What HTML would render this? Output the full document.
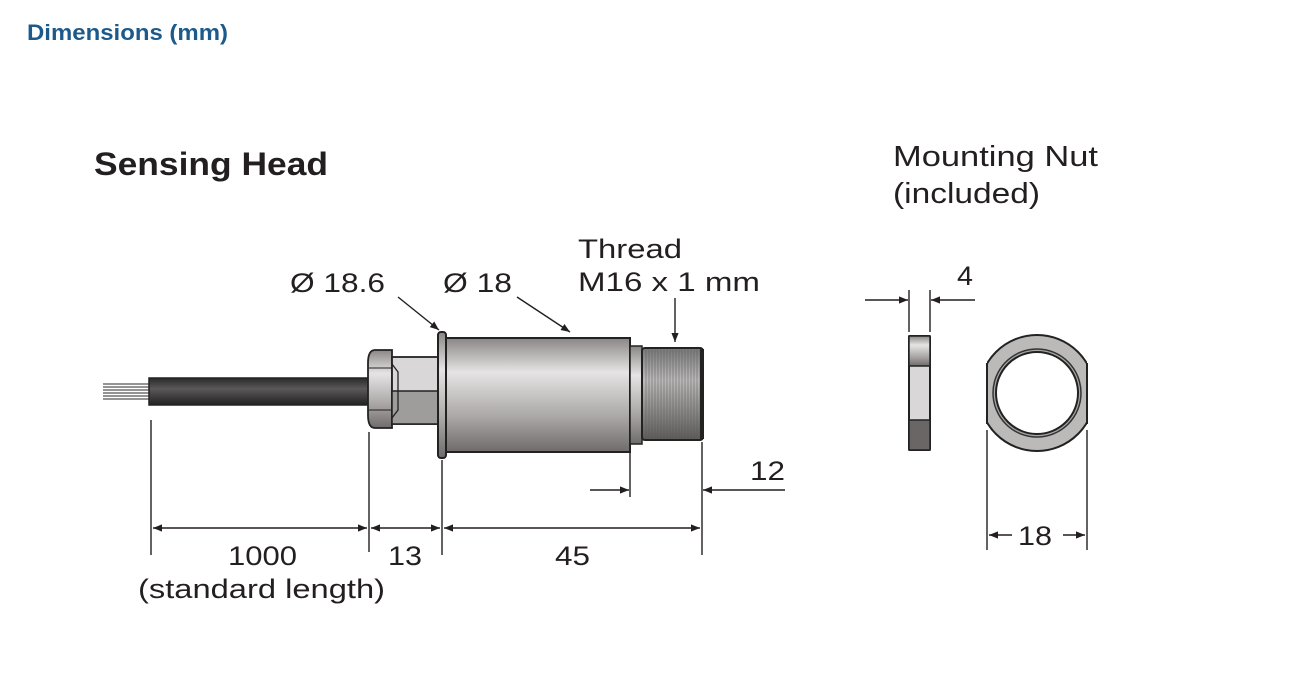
<!DOCTYPE html>
<html><head><meta charset="utf-8"><style>
html,body{margin:0;padding:0;background:#fff;}
body{width:1293px;height:694px;overflow:hidden;position:relative;}
svg{position:absolute;left:0;top:0;}
text{font-family:"Liberation Sans","DejaVu Sans",sans-serif;fill:#231f20;}
</style></head><body>
<svg width="1293" height="694" viewBox="0 0 1293 694" xmlns="http://www.w3.org/2000/svg">
<defs>
<linearGradient id="body" x1="0" y1="0" x2="0" y2="1">
<stop offset="0" stop-color="#8a8685"/><stop offset="0.3" stop-color="#e6e4e4"/><stop offset="0.7" stop-color="#a9a5a5"/><stop offset="1" stop-color="#6f6b6b"/></linearGradient>
<linearGradient id="cable" x1="0" y1="0" x2="0" y2="1">
<stop offset="0" stop-color="#2a2a2a"/><stop offset="0.4" stop-color="#5a5858"/><stop offset="1" stop-color="#222"/></linearGradient>
<linearGradient id="thr" x1="0" y1="0" x2="0" y2="1">
<stop offset="0" stop-color="#777"/><stop offset="0.35" stop-color="#bdbaba"/><stop offset="1" stop-color="#5c5959"/></linearGradient>
<pattern id="threads" width="3" height="10" patternUnits="userSpaceOnUse"><line x1="1" y1="0" x2="1" y2="10" stroke="#555" stroke-width="0.8" opacity="0.6"/></pattern>
<marker id="ah" viewBox="0 0 10 10" refX="10" refY="5" markerWidth="11" markerHeight="9" orient="auto-start-reverse" markerUnits="userSpaceOnUse"><path d="M0,1 L10,5 L0,9 z" fill="#231f20"/></marker>
</defs>
<text x="27" y="40" font-size="22" font-weight="bold" textLength="201" lengthAdjust="spacingAndGlyphs" style="fill:#1d5a8c">Dimensions (mm)</text>
<text x="94" y="175" font-size="32" font-weight="bold" textLength="234" lengthAdjust="spacingAndGlyphs" style="fill:#231f20">Sensing Head</text>
<text x="893" y="166" font-size="29" textLength="205" lengthAdjust="spacingAndGlyphs">Mounting Nut</text>
<text x="893" y="203" font-size="29" textLength="147" lengthAdjust="spacingAndGlyphs">(included)</text>

<g stroke="#555" stroke-width="1.2">
<line x1="103" y1="384" x2="150" y2="384"/><line x1="103" y1="387" x2="150" y2="387"/><line x1="103" y1="390" x2="150" y2="390"/><line x1="103" y1="393" x2="150" y2="393"/><line x1="103" y1="396" x2="150" y2="396"/><line x1="103" y1="399" x2="150" y2="399"/></g>
<rect x="149" y="378" width="222" height="27" fill="url(#cable)" stroke="#222" stroke-width="1.5"/>
<path d="M375,350 L392,350 L392,428 L375,428 Q368,428 368,415 L368,363 Q368,350 375,350z" fill="url(#body)" stroke="#222" stroke-width="1.8"/>
<line x1="369" y1="368" x2="392" y2="368" stroke="#222"/><line x1="369" y1="410" x2="392" y2="410" stroke="#222"/>
<rect x="392" y="357" width="47" height="67" fill="#d9d7d7" stroke="#222" stroke-width="1.8"/>
<rect x="392" y="391" width="47" height="33" fill="#9f9c9c" stroke="#222" stroke-width="1.5"/>
<path d="M392,364 L398,372 L398,410 L392,418" fill="none" stroke="#222" stroke-width="1.3"/>
<rect x="438" y="332" width="8" height="126" rx="3" fill="url(#body)" stroke="#222" stroke-width="2"/>
<rect x="446" y="338" width="184" height="114" fill="url(#body)" stroke="#222" stroke-width="2"/>
<rect x="630" y="346" width="12" height="98" fill="url(#body)" stroke="#222" stroke-width="1.5"/>
<rect x="642" y="348" width="61" height="92" rx="3" fill="url(#thr)" stroke="#222" stroke-width="2"/>
<rect x="644" y="350" width="56" height="88" fill="url(#threads)"/>
<rect x="700" y="349" width="4" height="90" fill="#222"/>

<g stroke="#231f20" stroke-width="1.4" fill="none">
<line x1="398" y1="297" x2="439" y2="330" marker-end="url(#ah)"/>
<line x1="517" y1="297" x2="570" y2="332" marker-end="url(#ah)"/>
<line x1="675" y1="298" x2="675" y2="342" marker-end="url(#ah)"/>
<line x1="151" y1="420" x2="151" y2="555"/>
<line x1="369" y1="432" x2="369" y2="552"/>
<line x1="442" y1="460" x2="442" y2="555"/>
<line x1="630" y1="445" x2="630" y2="497"/>
<line x1="702" y1="442" x2="702" y2="555"/>
<line x1="153" y1="528" x2="367" y2="528" marker-start="url(#ah)" marker-end="url(#ah)"/>
<line x1="371" y1="528" x2="440" y2="528" marker-start="url(#ah)" marker-end="url(#ah)"/>
<line x1="444" y1="528" x2="700" y2="528" marker-start="url(#ah)" marker-end="url(#ah)"/>
<line x1="590" y1="490" x2="629" y2="490" marker-end="url(#ah)"/>
<line x1="785" y1="490" x2="703" y2="490" marker-end="url(#ah)"/>
<line x1="909" y1="290" x2="909" y2="332"/>
<line x1="930" y1="290" x2="930" y2="332"/>
<line x1="865" y1="300" x2="908" y2="300" marker-end="url(#ah)"/>
<line x1="975" y1="300" x2="931" y2="300" marker-end="url(#ah)"/>
<line x1="987" y1="430" x2="987" y2="550"/>
<line x1="1087" y1="430" x2="1087" y2="550"/>
<line x1="1012" y1="535" x2="989" y2="535" marker-end="url(#ah)"/>
<line x1="1063" y1="535" x2="1085" y2="535" marker-end="url(#ah)"/>
</g>
<text x="290" y="292" font-size="27" textLength="95" lengthAdjust="spacingAndGlyphs">Ø 18.6</text>
<text x="443" y="292" font-size="27" textLength="69" lengthAdjust="spacingAndGlyphs">Ø 18</text>
<text x="578" y="258" font-size="27" textLength="104" lengthAdjust="spacingAndGlyphs">Thread</text>
<text x="578" y="291" font-size="27" textLength="182" lengthAdjust="spacingAndGlyphs">M16 x 1 mm</text>
<text x="750" y="480" font-size="27" textLength="35" lengthAdjust="spacingAndGlyphs">12</text>
<text x="228" y="565" font-size="27" textLength="69" lengthAdjust="spacingAndGlyphs">1000</text>
<text x="138" y="598" font-size="27" textLength="247" lengthAdjust="spacingAndGlyphs">(standard length)</text>
<text x="388" y="565" font-size="27" textLength="34" lengthAdjust="spacingAndGlyphs">13</text>
<text x="555" y="565" font-size="27" textLength="35" lengthAdjust="spacingAndGlyphs">45</text>
<text x="957" y="285" font-size="27" textLength="16" lengthAdjust="spacingAndGlyphs">4</text>
<text x="1018" y="545" font-size="27" textLength="34" lengthAdjust="spacingAndGlyphs">18</text>

<rect x="909" y="336" width="21" height="114" rx="1" fill="#d9d7d7" stroke="#222" stroke-width="2"/>
<rect x="909" y="336" width="21" height="30" fill="url(#body)" stroke="#222" stroke-width="1.5"/>
<rect x="909" y="420" width="21" height="30" fill="#6a6666" stroke="#222" stroke-width="1.5"/>
<clipPath id="oc"><rect x="987" y="330" width="100" height="130"/></clipPath>
<circle cx="1037" cy="393" r="58" fill="#bcb9b9" stroke="#222" stroke-width="2" clip-path="url(#oc)"/>
<line x1="987" y1="363" x2="987" y2="424" stroke="#222" stroke-width="2"/>
<line x1="1087" y1="363" x2="1087" y2="424" stroke="#222" stroke-width="2"/>
<circle cx="1037" cy="393" r="44" fill="#a9a6a6" stroke="#333" stroke-width="1.5"/>
<circle cx="1037" cy="393" r="41" fill="#fff" stroke="#222" stroke-width="2"/>
</svg>
</body></html>
